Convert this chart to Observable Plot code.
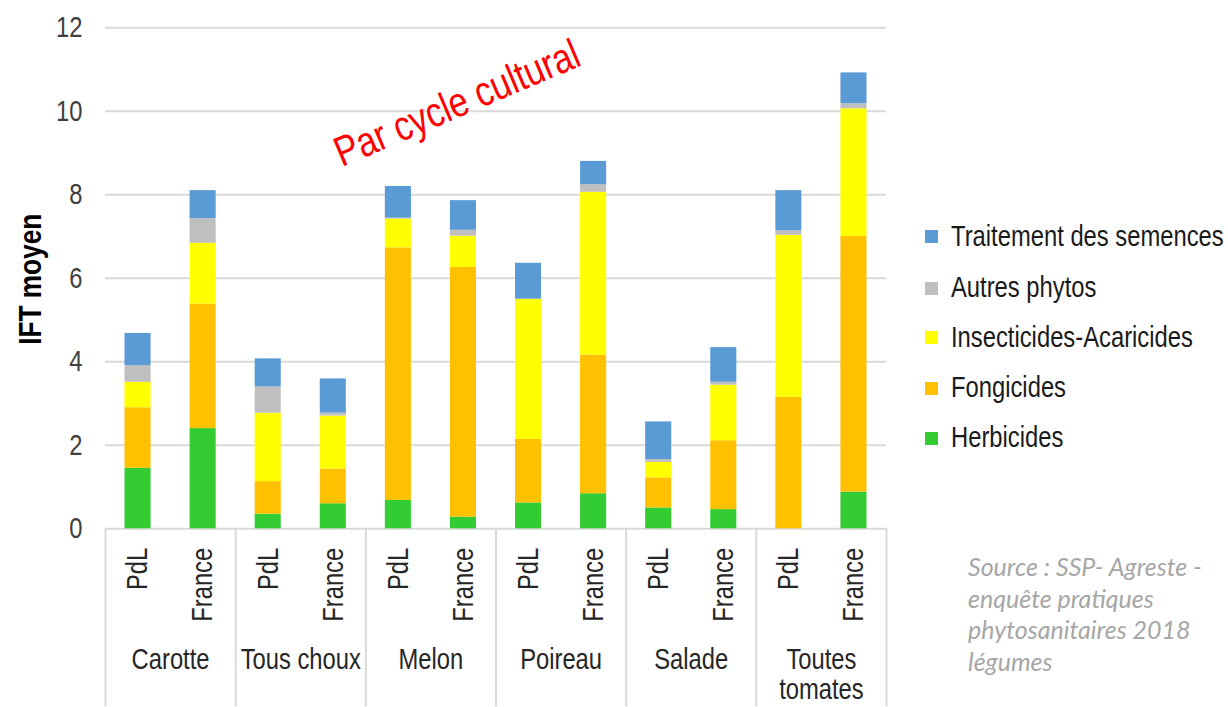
<!DOCTYPE html>
<html><head><meta charset="utf-8">
<script src="https://cdn.jsdelivr.net/npm/d3@7"></script>
<script src="https://cdn.jsdelivr.net/npm/@observablehq/plot@0.6"></script>
<style>
body{margin:0;background:#fff;}
#wrap{position:relative;width:1228px;height:707px;overflow:hidden;background:#fff;
  font-family:"Liberation Sans","Arial",sans-serif;}
#wrap svg{position:absolute;left:0;top:0;}
.leg{position:absolute;left:925px;font-size:29px;color:#1a1a1a;line-height:1;white-space:nowrap;}
.leg .sw{position:absolute;left:0;top:-6.5px;width:13px;height:13px;}
.leg .lb{position:absolute;left:26px;top:0;transform-origin:0 50%;transform:translateY(-52%) scaleX(0.82);}
#note{position:absolute;left:968px;top:551px;font-family:"Lato","Open Sans",sans-serif;font-style:italic;
  font-size:25px;line-height:31.7px;color:#a6a6a6;white-space:nowrap;}
#red{position:absolute;left:457px;top:103px;transform:translate(-50%,-50%) rotate(-23deg) scaleX(0.82);
  font-size:42px;line-height:1;color:#ff0000;white-space:nowrap;}
</style></head><body><div id="wrap"></div>
<script>
const crops = ["Carotte", "Tous choux", "Melon", "Poireau", "Salade", "Toutes tomates"];
const cropLabels = ["Carotte", "Tous choux", "Melon", "Poireau", "Salade", "Toutes\ntomates"];
const regions = ["PdL", "France"];
const seriesNames = ["Herbicides", "Fongicides", "Insecticides-Acaricides", "Autres phytos", "Traitement des semences"];
const seriesColors = ["#33CC33", "#FFC000", "#FFFF00", "#BFBFBF", "#5B9BD5"];
// values per bar: Carotte PdL, Carotte France, Tous choux PdL, Tous choux France, ...
const herbicides   = [1.45, 2.40, 0.35, 0.60, 0.68, 0.28, 0.62, 0.84, 0.50, 0.46, 0.00, 0.88];
const fongicides   = [1.45, 2.98, 0.78, 0.83, 6.05, 5.98, 1.52, 3.32, 0.72, 1.65, 3.15, 6.12];
const insecticides = [0.61, 1.46, 1.64, 1.27, 0.69, 0.75, 3.36, 3.90, 0.37, 1.33, 3.88, 3.06];
const autres       = [0.40, 0.59, 0.63, 0.07, 0.02, 0.14, 0.00, 0.18, 0.07, 0.07, 0.11, 0.12];
const semences     = [0.77, 0.67, 0.67, 0.82, 0.76, 0.71, 0.86, 0.56, 0.90, 0.83, 0.96, 0.74];
const yTicks = [0, 2, 4, 6, 8, 10, 12];
const sourceLines = ["Source : SSP- Agreste -", "enquête pratiques", "phytosanitaires 2018", "légumes"];
const annotation = "Par cycle cultural";
const yTitle = "IFT moyen";

const seriesValues = [herbicides, fongicides, insecticides, autres, semences];
const table = [];
const bars = [];
crops.forEach((c, ci) => regions.forEach((r, ri) => {
  const i = ci * regions.length + ri;
  bars.push({i, crop: c, region: r});
  seriesNames.forEach((s, si) => table.push({i, crop: c, region: r, series: s, value: seriesValues[si][i]}));
}));
const nBars = bars.length;
const barCenters = bars.map(b => b.i + 0.5);
const groupCenters = crops.map((c, ci) => ci * regions.length + regions.length / 2);
const groupEdges = d3.range(0, nBars + 1, regions.length);

const chart = Plot.plot({
  width: 1228, height: 707,
  marginLeft: 105, marginRight: 342, marginTop: 27.3, marginBottom: 178.7,
  x: {domain: [0, nBars], axis: null},
  y: {domain: [0, 12], axis: null},
  color: {domain: seriesNames, range: seriesColors},
  style: {fontFamily: '"Liberation Sans","Arial",sans-serif', background: "transparent", overflow: "visible"},
  marks: [
    Plot.gridY(yTicks, {stroke: "#d9d9d9", strokeWidth: 2, strokeOpacity: 1}),
    Plot.rectY(table, {x1: "i", x2: d => d.i + 1, y: "value", fill: "series", insetLeft: 19.5, insetRight: 19.5}),
    Plot.axisY(yTicks, {tickSize: 0, tickPadding: 23, fontSize: 29, fill: "#404040", label: null}),
    Plot.axisX(barCenters, {tickSize: 0, tickPadding: 19, tickRotate: -90, fontSize: 29, fill: "#262626", label: null,
      tickFormat: d => bars[Math.floor(d)].region}),
    Plot.axisX(groupCenters, {tickSize: 0, tickPadding: 118, fontSize: 29, fill: "#262626", label: null, lineHeight: 1.06,
      tickFormat: d => cropLabels[Math.floor(d / regions.length)]}),
    Plot.axisX(groupEdges, {tickSize: 178, stroke: "#d9d9d9", strokeWidth: 2, strokeOpacity: 1, tickFormat: () => "", label: null}),
    Plot.text([yTitle], {frameAnchor: "left", textAnchor: "middle", dx: -75, dy: 1, rotate: -90, fontWeight: "bold", fontSize: 32, fill: "#000"})
  ]
});
// narrow the glyphs (Arial Narrow look) around each text's own anchor
chart.querySelectorAll("text").forEach(t => {
  const ax = t.hasAttribute("x") ? +t.getAttribute("x") : 0;
  const tr = t.getAttribute("transform") || "";
  t.setAttribute("transform", `${tr} translate(${ax},0) scale(0.82,1) translate(${-ax},0)`);
});
const wrap = document.getElementById("wrap");
wrap.appendChild(chart);

// legend (top to bottom: reverse stacking order)
const legRows = [236.7, 288.3, 337.8, 388, 438.3];
seriesNames.slice().reverse().forEach((s, k) => {
  const el = document.createElement("div");
  el.className = "leg";
  el.style.top = legRows[k] + "px";
  const sw = document.createElement("div");
  sw.className = "sw";
  sw.style.background = seriesColors[seriesNames.indexOf(s)];
  const lb = document.createElement("div");
  lb.className = "lb";
  lb.textContent = s;
  el.appendChild(sw); el.appendChild(lb);
  wrap.appendChild(el);
});
const note = document.createElement("div");
note.id = "note";
note.innerHTML = sourceLines.join("<br>");
wrap.appendChild(note);
const red = document.createElement("div");
red.id = "red";
red.textContent = annotation;
wrap.appendChild(red);
</script></body></html>
